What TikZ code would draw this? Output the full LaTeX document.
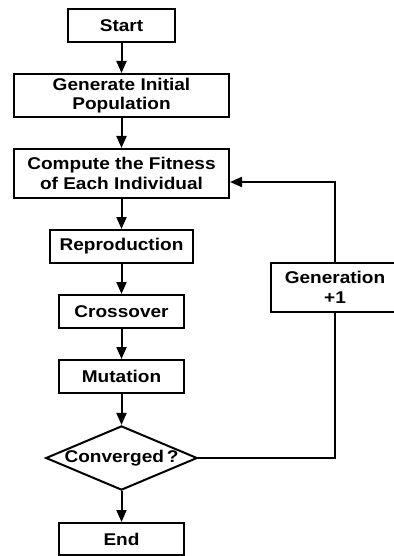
\documentclass[tikz,border=0pt]{standalone}
\usepackage{fontspec}
\setmainfont{Liberation Sans}[FakeStretch=1.12]
\usetikzlibrary{arrows.meta,positioning,shapes.geometric,calc}

\begin{document}
\begin{tikzpicture}[
    x=1pt, y=-1pt,
    proc/.style={draw, line width=2pt, inner sep=0pt, align=center, font=\fontsize{17}{19.5}\selectfont\bfseries},
    decision/.style={draw, diamond, aspect=2.36, line width=2pt, inner sep=0pt, minimum width=151pt, minimum height=64pt, font=\fontsize{17}{19.5}\selectfont\bfseries},
    flow/.style={-{Triangle[length=12pt,width=10pt]}, line width=2pt},
    link/.style={line width=2pt}
  ]
    \useasboundingbox (0,0) rectangle (393,556);

    \node[proc, minimum width=107pt, minimum height=33pt] (start) at (121.5,25.5) {Start};
    \node[proc, minimum width=215pt, minimum height=43pt] (init) at (121.5,95.5) {Generate Initial\\Population};
    \node[proc, minimum width=215pt, minimum height=49pt] (fit) at (121.5,173.5) {Compute the Fitness\\of Each Individual};
    \node[proc, minimum width=143pt, minimum height=33pt] (repr) at (121.5,246.5) {Reproduction};
    \node[proc, minimum width=125pt, minimum height=33pt] (cross) at (121.5,311.5) {Crossover};
    \node[proc, minimum width=125pt, minimum height=33pt] (mut) at (121.5,376.5) {Mutation};
    \node[decision] (conv) at (121.5,458) {Converged\,?};
    \node[proc, minimum width=125pt, minimum height=32pt] (end) at (121.5,539) {End};
    \node[proc, minimum width=128pt, minimum height=49pt] (gen) at (335,287.5) {Generation\\+1};

    \draw[flow] (start) -- (init);
    \draw[flow] (init) -- (fit);
    \draw[flow] (fit) -- (repr);
    \draw[flow] (repr) -- (cross);
    \draw[flow] (cross) -- (mut);
    \draw[flow] (mut) -- (conv);
    \draw[flow] (conv) -- (end);

    % loop back to fitness
    \draw[link] (conv.east) -| (gen.south);
    \draw[flow] (gen.north) |- ([yshift=-8.5pt]fit.east);
  \end{tikzpicture}
\end{document}
